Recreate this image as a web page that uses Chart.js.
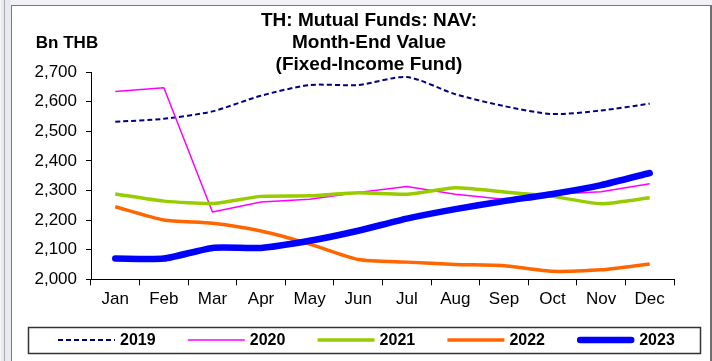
<!DOCTYPE html>
<html>
<head>
<meta charset="utf-8">
<script src="https://cdn.jsdelivr.net/npm/chart.js@4.4.1/dist/chart.umd.min.js"></script>
<style>
  html, body { margin: 0; padding: 0; }
  body { width: 712px; height: 361px; background: #f1f2f7; position: relative; overflow: hidden; }
  #strip { position: absolute; left: 0; top: 0; width: 10px; height: 361px; background: #e9eaf0; border-left: 1px solid #f7f7fa; }
  #strip div { position: absolute; left: 3px; top: 0; width: 1px; height: 361px; background: #a9a9b0; }
  #frame { position: absolute; left: 11px; top: 5px; width: 698px; height: 360px; background: #fff;
           border-left: 1px solid #7a7a7a; border-top: 1px solid #7a7a7a; border-right: 2px solid #6e6e6e; }
  #navChart { position: absolute; left: 0; top: 0; }
</style>
</head>
<body>
<div id="strip"><div></div></div>
<div id="frame"><canvas id="navChart" width="698" height="355"></canvas></div>
<script>
window.addEventListener('load', function () {
    navChartDraw();
})

let months = ['Jan', 'Feb', 'Mar', 'Apr', 'May', 'Jun', 'Jul', 'Aug', 'Sep', 'Oct', 'Nov', 'Dec']
let years = ['2019', '2020', '2021', '2022', '2023']

// month-end NAV, Bn THB
let nav2019 = [2532, 2542, 2567, 2620, 2656, 2656, 2683, 2625, 2585, 2558, 2570, 2593]
let nav2020 = [2634, 2647, 2227, 2261, 2270, 2293, 2313, 2287, 2270, 2287, 2296, 2323]
let nav2021 = [2288, 2264, 2256, 2280, 2282, 2292, 2287, 2309, 2295, 2280, 2255, 2275]
let nav2022 = [2245, 2200, 2189, 2163, 2119, 2067, 2058, 2050, 2046, 2027, 2032, 2052]
let nav2023 = [2070, 2070, 2106, 2106, 2130, 2164, 2205, 2237, 2264, 2288, 2318, 2359]

let yTicks = [2000, 2100, 2200, 2300, 2400, 2500, 2600, 2700]
let titleLines = ['TH: Mutual Funds: NAV:', 'Month-End Value', '(Fixed-Income Fund)']
let unitLabel = 'Bn THB'

let color_2019_navy = '#000080'
let color_2020_magenta = '#ff00ff'
let color_2021_green = '#99cc00'
let color_2022_orange = '#ff6600'
let color_2023_blue = '#0000ff'

let series = [
    { label: years[0], data: nav2019, borderColor: color_2019_navy, borderWidth: 2, borderDash: [5, 3], tension: 0.25, order: 4 },
    { label: years[1], data: nav2020, borderColor: color_2020_magenta, borderWidth: 1.5, tension: 0, order: 3 },
    { label: years[2], data: nav2021, borderColor: color_2021_green, borderWidth: 3.5, tension: 0.2, order: 2 },
    { label: years[3], data: nav2022, borderColor: color_2022_orange, borderWidth: 3.5, tension: 0.2, order: 1 },
    { label: years[4], data: nav2023, borderColor: color_2023_blue, borderWidth: 6.5, tension: 0.2, order: 0 }
]

// title, unit label and the boxed legend under the axis
let decorPlugin = {
    id: 'decor',
    afterDraw: function (chart) {
        let ctx = chart.ctx;
        ctx.save();
        ctx.fillStyle = '#000';
        ctx.textBaseline = 'middle';

        ctx.textAlign = 'center';
        ctx.font = 'bold 19px Arial, "Liberation Sans"';
        titleLines.forEach(function (t, i) {
            ctx.fillText(t, 357, 15 + i * 22);
        });
        ctx.font = 'bold 17px Arial, "Liberation Sans"';
        ctx.fillText(unitLabel, 55, 37);

        // legend frame
        ctx.strokeStyle = '#333';
        ctx.lineWidth = 1.5;
        ctx.strokeRect(16.5, 321.5, 672, 26);

        ctx.textAlign = 'left';
        ctx.font = 'bold 16px Arial, "Liberation Sans"';
        chart.data.datasets.forEach(function (ds, i) {
            let x0 = 46 + i * 129.8;
            let y = 334;
            ctx.save();
            ctx.strokeStyle = ds.borderColor;
            ctx.lineWidth = ds.borderWidth;
            ctx.lineCap = ds.borderWidth > 5 ? 'round' : 'butt';
            ctx.setLineDash(ds.borderDash || []);
            ctx.beginPath();
            let inset = ds.borderWidth > 5 ? 3 : 0;
            ctx.moveTo(x0 + inset, y);
            ctx.lineTo(x0 + 57 - inset, y);
            ctx.stroke();
            ctx.restore();
            ctx.fillText(ds.label, x0 + 62, y + 1);
        });
        ctx.restore();
    }
};

let navChartDraw = function () {
    let ctx = document.getElementById('navChart').getContext('2d');

    window.navChart = new Chart(ctx, {
        type: 'line',
        data: {
            labels: months,
            datasets: series.map(function (s) {
                return Object.assign({
                    fill: false,
                    pointRadius: 0,
                    pointHoverRadius: 0,
                    borderCapStyle: s.borderWidth > 5 ? 'round' : 'butt',
                    borderJoinStyle: 'round'
                }, s);
            })
        },
        options: {
            responsive: false,
            animation: false,
            layout: { padding: { left: 0, right: 36, top: 66, bottom: 0 } },
            plugins: {
                legend: { display: false },
                title: { display: false },
                tooltip: { enabled: false }
            },
            scales: {
                x: {
                    offset: true,
                    grid: { drawOnChartArea: false, drawTicks: true, tickLength: 6, color: '#000', offset: true },
                    border: { color: '#000', width: 1 },
                    ticks: { color: '#000', font: { family: 'Arial, "Liberation Sans"', size: 17 }, padding: 4, maxRotation: 0, autoSkip: false },
                    afterFit: function (scale) { scale.height = 81.7; }
                },
                y: {
                    min: yTicks[0],
                    max: yTicks[yTicks.length - 1],
                    afterBuildTicks: function (scale) {
                        scale.ticks = yTicks.map(function (v) { return { value: v }; });
                    },
                    grid: { drawOnChartArea: false, drawTicks: true, tickLength: 5, color: '#000' },
                    border: { color: '#000', width: 1 },
                    ticks: {
                        color: '#000',
                        padding: 9,
                        font: { family: 'Arial, "Liberation Sans"', size: 17 },
                        callback: function (v) { return v.toLocaleString('en-US'); }
                    },
                    afterFit: function (scale) { scale.width = 79; }
                }
            }
        },
        plugins: [decorPlugin]
    });
};
</script>
</body>
</html>
